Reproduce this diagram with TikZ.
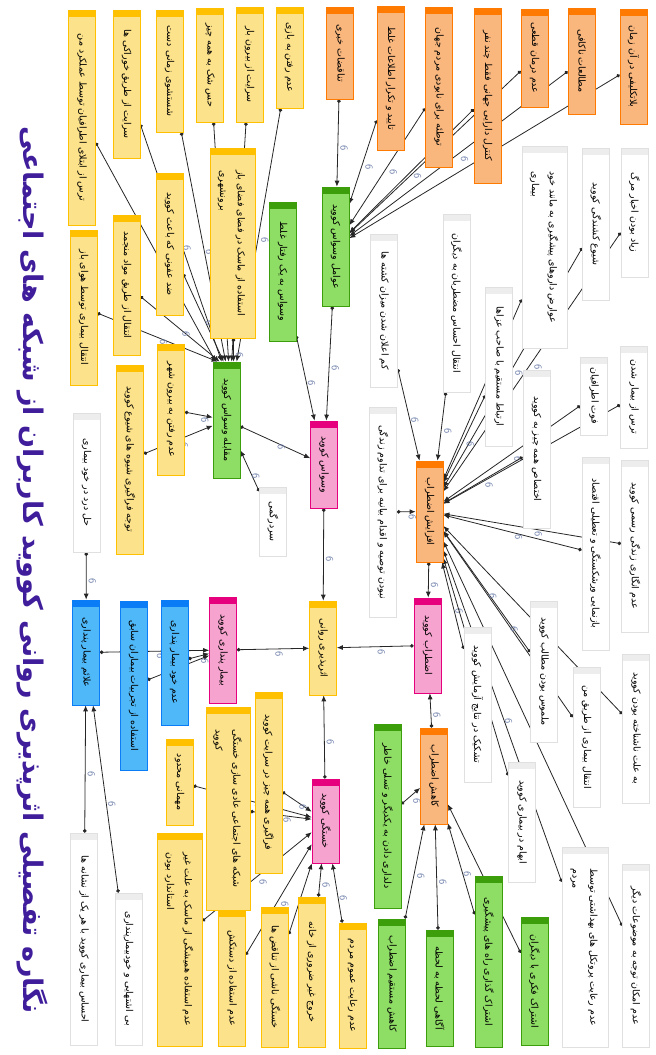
\documentclass[tikz,border=0pt]{standalone}
\usepackage{fontspec}
\usepackage{graphicx}
\usetikzlibrary{arrows.meta,backgrounds}
\newfontfamily\fa[Script=Arabic]{DejaVu Sans}
\TeXXeTstate=1
\definecolor{yfl}{HTML}{FCE28A}
\definecolor{yhd}{HTML}{FFC000}
\definecolor{ofl}{HTML}{F9B77E}
\definecolor{ohd}{HTML}{FF7A00}
\definecolor{gfl}{HTML}{8EDD64}
\definecolor{ghd}{HTML}{3D9E0C}
\definecolor{pfl}{HTML}{F7A3CF}
\definecolor{phd}{HTML}{E6007E}
\definecolor{bfl}{HTML}{4FB8F8}
\definecolor{bhd}{HTML}{0A7CF5}
\definecolor{whd}{HTML}{EDEDED}
\definecolor{wdr}{HTML}{E0E0E0}
\definecolor{ttlc}{HTML}{3F1D9B}
\definecolor{lnkc}{HTML}{6E7FAA}
\newcommand\vtxt[1]{\rotatebox{-90}{\beginR#1\endR}}
\newcommand\vtwo[2]{\rotatebox{-90}{\renewcommand\arraystretch{1.35}\begin{tabular}{@{}l@{}}#1\\#2\end{tabular}}}
\newcommand\lk{\rotatebox{-90}{6}}

\begin{document}
\begin{tikzpicture}[x=1pt, y=-1pt,
  box/.style={draw=#1, line width=.7pt, minimum width=27pt, inner sep=1pt,
    font=\fa\fontsize{9.5}{13}\selectfont,
    path picture={\fill[#1] (path picture bounding box.north west) rectangle ([yshift=-7pt]path picture bounding box.north east);}},
  ybox/.style={box=yhd, fill=yfl},
  obox/.style={box=ohd, fill=ofl},
  gbox/.style={box=ghd, fill=gfl},
  pbox/.style={box=phd, fill=pfl},
  bbox/.style={box=bhd, fill=bfl},
  wbox/.style={box=whd, fill=white, draw=wdr},
  conn/.style={{Circle[length=3.6pt]}-{Latex[length=6pt,width=5pt]}, line width=.8pt, black!85},
  ico/.style={pos=.5, below right=2pt, inner sep=0pt, text=lnkc,
    font=\sffamily\fontsize{10.5}{10.5}\selectfont},
  ttl/.style={text=ttlc, font=\fa\bfseries\fontsize{27}{30}\selectfont}]
  \useasboundingbox (0,0) rectangle (656,1055);

  \node[ttl] (title) at (32,570) {\vtxt{نگاره تفصیلی اثرپذیری روانی کووید کاربران از شبکه های اجتماعی}};

  % top row
  \node[ybox, minimum height=215pt] (fearOthers) at (82,117.5) {\vtxt{ترس از ابتلای اطرافیان توسط عملکرد من}};
  \node[ybox, minimum height=148pt] (foodSpread) at (126.5,84) {\vtxt{سرایت از طریق خوراکی ها}};
  \node[ybox, minimum height=122pt] (handWash) at (169.5,71) {\vtxt{شستشوی زمانی دست}};
  \node[ybox, minimum height=114pt] (doubtAll) at (210,65) {\vtxt{حس شک به همه چیز}};
  \node[ybox, minimum height=115pt] (outSpread) at (249.5,64.5) {\vtxt{سرایت از بیرون بار}};
  \node[ybox, minimum height=101pt] (noBazaar) at (289.5,57.5) {\vtxt{عدم رفتن به بازی}};
  \node[obox, minimum height=92pt] (contra) at (340,53) {\vtxt{تناقضات خبری}};
  \node[obox, minimum height=144pt] (falseInfo) at (390.5,78) {\vtxt{تایید و تکرار اطلاعات غلط}};
  \node[obox, minimum height=160pt] (plot) at (439,87) {\vtxt{توطئه برای نابودی مردم جهان}};
  \node[obox, minimum height=175pt] (assets) at (487.5,95.5) {\vtxt{کنترل دارایی جهانی فقط چند نفر}};
  \node[obox, minimum height=98pt] (noCure) at (534.5,58) {\vtxt{عدم درمان قطعی}};
  \node[obox, minimum height=106pt] (study) at (581.5,61) {\vtxt{مطالعات ناکافی}};
  \node[obox, minimum height=115pt] (limbo) at (633.5,66.5) {\vtxt{بلاتکلیفی در آن زمان}};

  % coping with obsession
  \node[ybox, minimum width=45pt, minimum height=190pt] (maskOut) at (232.5,243) {\vtwo{\beginR استفاده از ماسک در فضای فضای باز\endR}{\beginR برونشهری\endR}};
  \node[ybox, minimum height=142pt] (disinfect) at (169.5,244) {\vtxt{ضد عفونی که باعث کووید}};
  \node[ybox, minimum height=140pt] (frozen) at (126.5,285) {\vtxt{انتقال از طریق مواد منجمد}};
  \node[ybox, minimum height=155pt] (airSpread) at (83.5,307.5) {\vtxt{انتقال بیماری توسط هوای باز}};
  \node[ybox, minimum height=131pt] (noTrip) at (171,409.5) {\vtxt{عدم رفتن به بیرون شهر}};
  \node[ybox, minimum height=189pt] (spreadWays) at (130,459.5) {\vtxt{توجه فراگیری شیوه های شیوع کووید}};
  \node[gbox, minimum height=116pt] (ocdCope) at (226.5,420) {\vtxt{مقابله وسواس کووید}};
  \node[wbox, minimum height=69pt] (confused) at (273,521.5) {\vtxt{سردرگمی}};
  \node[gbox, minimum height=139pt] (wrongHabit) at (282.5,271.5) {\vtxt{وسواس به یک رفتار غلط}};
  \node[gbox, minimum height=119pt] (ocdFactors) at (335.5,246.5) {\vtxt{عوامل وسواس کووید}};
  \node[pbox, minimum height=87pt] (ocd) at (324,464.5) {\vtxt{وسواس کووید}};

  % anxiety, upper right
  \node[wbox, minimum height=129pt] (deathNews) at (634.5,212.5) {\vtxt{زیاد بودن اخبار مرگ}};
  \node[wbox, minimum height=152pt] (lethal) at (596,224) {\vtxt{شیوع کشندگی کووید}};
  \node[wbox, minimum width=45pt, minimum height=202pt] (sideEff) at (544.5,247) {\vtwo{\beginR عوارض داروهای پیشگیری به مانند خود\endR}{\beginR بیماری\endR}};
  \node[wbox, minimum height=159pt] (mourn) at (499,366.5) {\vtxt{ارتباط مستقیم با صاحب عزاها}};
  \node[wbox, minimum height=178pt] (passAnx) at (456.5,303) {\vtxt{انتقال احساس مضطربان به دیگران}};
  \node[wbox, minimum height=153pt] (lowCount) at (384,310.5) {\vtxt{کم اعلان شدن میزان کشته ها}};
  \node[wbox, minimum height=210pt] (noAdvice) at (383,512) {\vtxt{نبودن توصیه و اقدام بیانیه برای تداوم زندگی}};
  \node[wbox, minimum height=102pt] (fearSick) at (634,397) {\vtxt{ترس از بیمار شدن}};
  \node[wbox, minimum height=78pt] (lossKin) at (594,396) {\vtxt{فوت اطرافیان}};
  \node[wbox, minimum height=158pt] (allNews) at (536.5,449) {\vtxt{اختصاص همه چیز به کووید}};
  \node[wbox, minimum height=172pt] (routine) at (635,546) {\vtxt{عدم انگاری زندگی رسمی کووید}};
  \node[wbox, minimum height=193pt] (econ) at (595.5,553.5) {\vtxt{بازنمایی ورشکستگی و تعطیلی اقتصاد}};
  \node[wbox, minimum height=141pt] (tangible) at (544,671.5) {\vtxt{ملموس بودن مطالب کووید}};
  \node[wbox, minimum height=155pt] (testDoubt) at (477.5,704.5) {\vtxt{تشکیک در نتایج آزمایش کووید}};
  \node[wbox, minimum height=140pt] (viaMe) at (586.5,737) {\vtxt{انتقال بیماری از طریق من}};
  \node[wbox, minimum height=149pt] (unknown) at (636,728.5) {\vtxt{به علت ناشناخته بودن کووید}};
  \node[wbox, minimum height=120pt] (vague) at (522,822) {\vtxt{ابهام در بیماری کووید}};
  \node[wbox, minimum width=46pt, minimum height=200pt] (protocol) at (585,947) {\vtwo{\beginR عدم رعایت پروتکل های بهداشتی توسط\endR}{\beginR مردم\endR}};
  \node[wbox, minimum height=183pt] (otherTopics) at (636,955.5) {\vtxt{عدم امکان توجه به موضوعات دیگر}};
  \node[obox, minimum height=101pt] (anxUp) at (429.5,511.5) {\vtxt{افزایش اضطراب}};
  \node[pbox, minimum height=95pt] (anx) at (427.5,645.5) {\vtxt{اضطراب کووید}};
  \node[ybox, minimum height=94pt] (impact) at (323,648) {\vtxt{اثرپذیری روانی}};

  % calming
  \node[obox, minimum height=96pt] (anxDown) at (434,776) {\vtxt{کاهش اضطراب}};
  \node[gbox, minimum height=184pt] (consol) at (387.5,816) {\vtxt{دلداری دادن به یکدیگر و تسلی خاطر}};
  \node[gbox, minimum height=129pt] (directCalm) at (392,983.5) {\vtxt{کاهش مستقیم اضطراب}};
  \node[gbox, minimum height=116pt] (liveAware) at (439.5,988) {\vtxt{آگاهی لحظه به لحظه}};
  \node[gbox, minimum height=171pt] (sharePrev) at (488.5,961.5) {\vtxt{اشتراک گذاری راه های پیشگیری}};
  \node[gbox, minimum height=128pt] (shareMind) at (534.5,981) {\vtxt{اشتراک فکری با دیگران}};

  % fatigue
  \node[pbox, minimum height=84pt] (tired) at (325.5,821) {\vtxt{خستگی کووید}};
  \node[ybox, minimum height=181pt] (everything) at (268.5,782.5) {\vtxt{فراگیری همه چیز در سرایت کووید}};
  \node[ybox, minimum width=44pt, minimum height=203pt] (socialNorm) at (228,808.5) {\vtwo{\beginR شبکه های اجتماعی عادی سازی خستگی\endR}{\beginR کووید\endR}};
  \node[ybox, minimum height=86pt] (party) at (179.5,782) {\vtxt{مهمانی محدود}};
  \node[ybox, minimum width=45pt, minimum height=213pt] (maskStd) at (179.5,939.5) {\vtwo{\beginR عدم استفاده همیشگی از ماسک به علت غیر\endR}{\beginR استاندارد بودن\endR}};
  \node[ybox, minimum height=136pt] (glove) at (232,978) {\vtxt{عدم استفاده از دستکش}};
  \node[ybox, minimum height=140pt] (contradict) at (275,977) {\vtxt{خستگی ناشی از تناقض ها}};
  \node[ybox, minimum height=150pt] (leaveHome) at (311.5,972) {\vtxt{خروج غیر ضروری از خانه}};
  \node[ybox, minimum height=125pt] (publicCare) at (352.5,985.5) {\vtxt{عدم رعایت عموم مردم}};

  % hypochondria
  \node[pbox, minimum height=106pt] (hypo) at (223,650) {\vtxt{بیمار پنداری کووید}};
  \node[bbox, minimum height=105pt] (hypoSign) at (86,652.5) {\vtxt{علائم بیمار پنداری}};
  \node[bbox, minimum height=169pt] (pastCases) at (133.5,685.5) {\vtxt{استفاده از تجربیات بیماران سابق}};
  \node[bbox, minimum height=125pt] (noSelfHypo) at (174.5,662.5) {\vtxt{عدم خود بیمار پنداری}};
  \node[wbox, minimum height=139pt] (painSelf) at (86.5,482.5) {\vtxt{حل درد در خود بیماری}};
  \node[wbox, minimum height=212pt] (feelSick) at (84,939) {\vtxt{احساس بیماری کووید با هر یک از نشانه ها}};
  \node[wbox, minimum height=152pt] (appetite) at (128.5,969) {\vtxt{بی اشتهایی و خودبیمارپنداری}};

  \begin{scope}[on background layer]
    \draw[conn] (fearOthers) -- node[ico]{\lk} ([xshift=3pt]ocdCope.north west);
    \draw[conn] (airSpread) -- node[ico]{\lk} ([xshift=5pt]ocdCope.north west);
    \draw[conn] (frozen) -- node[ico]{\lk} ([xshift=7pt]ocdCope.north west);
    \draw[conn] (foodSpread) -- node[ico]{\lk} ([xshift=9pt]ocdCope.north west);
    \draw[conn] (disinfect) -- node[ico]{\lk} ([xshift=11pt]ocdCope.north west);
    \draw[conn] (handWash) -- node[ico]{\lk} ([xshift=13pt]ocdCope.north west);
    \draw[conn] (doubtAll) -- node[ico]{\lk} ([xshift=16pt]ocdCope.north west);
    \draw[conn] (outSpread) -- node[ico]{\lk} ([xshift=19pt]ocdCope.north west);
    \draw[conn] (maskOut) -- node[ico]{\lk} ([xshift=21pt]ocdCope.north west);
    \draw[conn] (noBazaar) -- node[ico]{\lk} ([xshift=24pt]ocdCope.north west);
    \draw[conn] (noTrip) -- node[ico]{\lk} (ocdCope);
    \draw[conn] (spreadWays) -- node[ico]{\lk} (ocdCope);
    \draw[conn] (confused) -- node[ico]{\lk} (ocdCope);
    \draw[conn] (ocdCope) -- node[ico]{\lk} (ocd);
    \draw[conn] (wrongHabit) -- node[ico]{\lk} (ocd);
    \draw[conn] (ocdFactors) -- node[ico]{\lk} (ocd);
    \draw[conn] (contra) -- node[ico]{\lk} (ocdFactors);
    \draw[conn] (falseInfo) -- node[ico]{\lk} (ocdFactors);
    \draw[conn] (plot) -- node[ico]{\lk} (ocdFactors);
    \draw[conn] (assets) -- node[ico]{\lk} (ocdFactors);
    \draw[conn] (noCure) -- node[ico]{\lk} (ocdFactors);
    \draw[conn] (study) -- node[ico]{\lk} (ocdFactors);
    \draw[conn] (limbo) -- node[ico]{\lk} (ocdFactors);

    \draw[conn] (lowCount) -- node[ico]{\lk} ([xshift=-10pt]anxUp.north);
    \draw[conn] (passAnx) -- node[ico]{\lk} ([xshift=8pt]anxUp.north);
    \draw[conn] (noAdvice) -- node[ico]{\lk} (anxUp);
    \draw[conn] (deathNews) -- node[ico]{\lk} (anxUp);
    \draw[conn] (lethal) -- node[ico]{\lk} (anxUp);
    \draw[conn] (sideEff) -- node[ico]{\lk} (anxUp);
    \draw[conn] (mourn) -- node[ico]{\lk} (anxUp);
    \draw[conn] (fearSick) -- node[ico]{\lk} (anxUp);
    \draw[conn] (lossKin) -- node[ico]{\lk} (anxUp);
    \draw[conn] (allNews) -- node[ico]{\lk} (anxUp);
    \draw[conn] (routine) -- node[ico]{\lk} (anxUp);
    \draw[conn] (econ) -- node[ico]{\lk} (anxUp);
    \draw[conn] (tangible) -- node[ico]{\lk} (anxUp);
    \draw[conn] (testDoubt) -- node[ico]{\lk} (anxUp);
    \draw[conn] (viaMe) -- node[ico]{\lk} (anxUp);
    \draw[conn] (unknown) -- node[ico]{\lk} (anxUp);
    \draw[conn] (vague) -- node[ico]{\lk} (anxUp);
    \draw[conn] (protocol) -- node[ico]{\lk} (anxUp);
    \draw[conn] (otherTopics) -- node[ico]{\lk} (anxUp);
    \draw[conn] (anxUp) -- node[ico]{\lk} (anx);

    \draw[conn] (consol) -- node[ico]{\lk} (anxDown);
    \draw[conn] (directCalm) -- node[ico]{\lk} (anxDown);
    \draw[conn] (liveAware) -- node[ico]{\lk} (anxDown);
    \draw[conn] (sharePrev) -- node[ico]{\lk} (anxDown);
    \draw[conn] (shareMind) -- node[ico]{\lk} (anxDown);
    \draw[conn] (anxDown) -- node[ico]{\lk} (anx);

    \draw[conn] (everything) -- node[ico]{\lk} (tired);
    \draw[conn] (socialNorm) -- node[ico]{\lk} (tired);
    \draw[conn] (party) -- node[ico]{\lk} (tired);
    \draw[conn] (maskStd) -- node[ico]{\lk} (tired);
    \draw[conn] (glove) -- node[ico]{\lk} (tired);
    \draw[conn] (contradict) -- node[ico]{\lk} (tired);
    \draw[conn] (leaveHome) -- node[ico]{\lk} (tired);
    \draw[conn] (publicCare) -- node[ico]{\lk} (tired);

    \draw[conn] (painSelf) -- node[ico]{\lk} (hypoSign);
    \draw[conn] (feelSick) -- node[ico]{\lk} (hypoSign);
    \draw[conn] (appetite) -- node[ico]{\lk} (hypoSign);
    \draw[conn] (hypoSign) -- node[ico]{\lk} (hypo);
    \draw[conn] (pastCases) -- node[ico]{\lk} (hypo);
    \draw[conn] (noSelfHypo) -- node[ico]{\lk} (hypo);

    \draw[conn] (ocd) -- node[ico]{\lk} (impact);
    \draw[conn] (anx) -- node[ico]{\lk} (impact);
    \draw[conn] (hypo) -- node[ico]{\lk} (impact);
    \draw[conn] (tired) -- node[ico]{\lk} (impact);
  \end{scope}
\end{tikzpicture}
\end{document}
